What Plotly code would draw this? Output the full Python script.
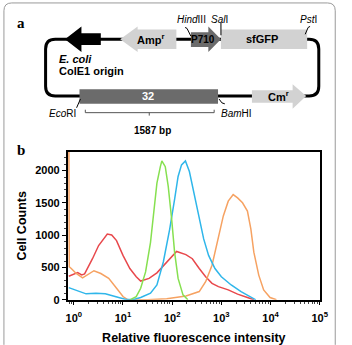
import plotly.graph_objects as go

# ---------------- data (panel b histogram) ----------------
red_x = [0.79, 0.98, 1.2, 1.45, 1.66, 2.4, 3.2, 4.8, 5.9, 7.4, 10, 13.8, 18.6, 22.9, 33.9, 49,
         77.6, 123, 190, 257, 355, 479, 646, 871, 1380, 2138, 3388, 4571]
red_y = [365, 395, 420, 385, 400, 636, 840, 1018, 1003, 916, 687, 484, 356, 290, 331, 417,
         585, 748, 700, 636, 484, 356, 255, 204, 153, 87, 35, 0]

green_x = [13.8, 18.6, 22.9, 28.8, 36.3, 42.7, 49, 57.5, 61.7, 72.4, 83.2, 97.7, 112, 132, 166, 209]
green_y = [0, 50, 178, 432, 890, 1348, 1806, 2061, 2150, 2061, 1756, 1247, 737, 331, 76, 0]

blue_x = [0.79, 1.05, 1.78, 2.82, 4.37, 6.92, 11.0, 15.8, 22.9, 36.3, 49, 66.1, 89.1, 112, 132,
          155, 186, 224, 282, 355, 437, 550, 741, 1000, 1585, 2512, 3981, 5012]
blue_y = [188, 153, 92, 102, 92, 50, 10, 0, 35, 102, 229, 585, 1095, 1553, 1909,
          2088, 2150, 1985, 1630, 1247, 942, 687, 484, 356, 229, 127, 35, 0]

orange_x = [0.79, 0.81, 0.89, 1.12, 1.51, 2.04, 2.57, 3.55, 5.13, 7.41, 10, 12.6, 31.6, 77.6, 191,
            355, 479, 646, 871, 1096, 1380, 1738, 2138, 2692, 3388, 3981, 4571, 5754, 7244, 9772, 13183]
orange_y = [3000, 509, 484, 407, 340, 400, 450, 407, 331, 178, 50, 0, 0, 15, 60,
            127, 280, 535, 993, 1298, 1527, 1629, 1578, 1501, 1374, 1095, 737, 382, 153, 35, 0]

x_tickvals = [1, 10, 100, 1000, 10000, 100000]
x_ticktext = ["10<sup>0</sup>", "10<sup>1</sup>", "10<sup>2</sup>", "10<sup>3</sup>",
              "10<sup>4</sup>", "10<sup>5</sup>"]
y_tickvals = [0, 500, 1000, 1500, 2000]

# ---------------- helpers ----------------
W, H = 352, 345
FONT = "Liberation Sans, Arial, sans-serif"


def px(x):
    return x / W


def py(y):
    return 1 - y / H


def path(cmds):
    out = []
    for c in cmds:
        op = c[0]
        pts = c[1:]
        s = op + " " + " ".join(f"{px(a):.5f},{py(b):.5f}" for a, b in pts)
        out.append(s)
    return " ".join(out)


def poly(points):
    return path([("M", points[0])] + [("L", p) for p in points[1:]] + [("Z",)])


shapes = []
annotations = []


def add_shape(p, fill=None, line_color=None, line_width=0):
    shapes.append(dict(type="path", xref="paper", yref="paper", path=p,
                       fillcolor=fill if fill else "rgba(0,0,0,0)",
                       line=dict(color=line_color if line_color else "rgba(0,0,0,0)",
                                 width=line_width)))


def add_text(x, y, text, size=11, color="black", xanchor="center", family=FONT, yanchor="middle"):
    annotations.append(dict(x=px(x), y=py(y), xref="paper", yref="paper", text=text,
                            showarrow=False, xanchor=xanchor, yanchor=yanchor,
                            font=dict(family=family, size=size, color=color)))


# outer rounded border
add_shape(path([("M", (2, 352)), ("L", (2, 11)), ("Q", (2, 3), (10, 3)), ("L", (336, 3)),
                ("Q", (344, 3), (344, 11)), ("L", (344, 352))]), line_color="#9a9a9a", line_width=1)

# plasmid loop
add_shape(path([("M", (60, 40)), ("L", (55, 40)), ("Q", (45, 40), (45, 50)), ("L", (45, 88)),
                ("Q", (45, 98), (55, 98)), ("L", (317, 98)), ("Q", (327, 98), (327, 88)),
                ("L", (327, 50)), ("Q", (327, 40), (317, 40)), ("Z",)]),
          line_color="black", line_width=3)

LIGHT = "#d2d2d2"
DARK = "#6b6b6b"

# origin arrow (black, pointing left)
add_shape(poly([(65, 40), (82, 27), (82, 34), (102, 34), (102, 46), (82, 46), (82, 53)]), fill="black")
# Amp arrow (pointing left)
add_shape(poly([(122, 40), (140, 27), (140, 30), (180, 30), (180, 50), (140, 50), (140, 53)]), fill=LIGHT)
# P710 arrow (pointing right)
add_shape(poly([(195, 33), (213, 33), (213, 27), (226, 40), (213, 53), (213, 48), (195, 48)]), fill=DARK)
# sfGFP box
add_shape(poly([(226, 30), (315, 30), (315, 50), (226, 50)]), fill=LIGHT)
# 32 box
add_shape(poly([(80, 91), (223, 91), (223, 106), (80, 106)]), fill=DARK)
# Cm arrow (pointing right)
add_shape(poly([(258, 92), (300, 92), (300, 86), (314, 98), (300, 111), (300, 105), (258, 105)]), fill=LIGHT)

# restriction site marker lines
mk = dict(line_color="black", line_width=1)
add_shape(path([("M", (189, 28)), ("L", (191, 29)), ("L", (195, 37))]), **mk)   # HindIII
add_shape(path([("M", (226, 23)), ("L", (226, 36))]), **mk)                    # SalI
add_shape(path([("M", (318, 27)), ("L", (316, 28)), ("L", (313, 35))]), **mk)   # PstI
add_shape(path([("M", (81, 101)), ("L", (77, 110))]), **mk)                     # EcoRI
add_shape(path([("M", (224, 101)), ("L", (227, 105)), ("L", (230, 106))]), **mk)  # BamHI
# bracket
add_shape(path([("M", (86, 112)), ("L", (86, 115)), ("L", (219, 115)), ("L", (219, 112))]),
          line_color="#555555", line_width=1)
add_shape(path([("M", (152, 115)), ("L", (152, 118))]), line_color="#555555", line_width=1)

# panel a texts
SERIF = "Liberation Serif, DejaVu Serif, serif"
add_text(20, 23, "<b>a</b>", size=15, family=SERIF)
add_text(153, 40, "<b>Amp<sup>r</sup></b>", size=11)
add_text(207, 40, "<b>P710</b>", size=10)
add_text(268, 40, "<b>sfGFP</b>", size=11)
add_text(151, 98, "<b>32</b>", size=11, color="white")
add_text(285, 98, "<b>Cm<sup>r</sup></b>", size=11)
add_text(196, 20, "<i>Hind</i>III", size=10)
add_text(225, 20, "<i>Sal</i>I", size=10)
add_text(316, 20, "<i>Pst</i>I", size=10)
add_text(62, 116, "<i>Eco</i>RI", size=10)
add_text(242, 116, "<i>Bam</i>HI", size=10)
add_text(57, 60, "<b><i>E. coli</i></b>", size=11, xanchor="left")
add_text(57, 72, "<b>ColE1 origin</b>", size=11, xanchor="left")
add_text(155, 133, "<b>1587 bp</b>", size=10)

# panel b texts
add_text(20, 153, "<b>b</b>", size=15, family=SERIF)

# ---------------- figure ----------------
fig = go.Figure()
for xs, ys, col in [(red_x, red_y, "#e8484c"), (orange_x, orange_y, "#f6a262"),
                    (blue_x, blue_y, "#2fb6ea"), (green_x, green_y, "#86e050")]:
    fig.add_trace(go.Scatter(x=xs, y=ys, mode="lines", line=dict(color=col, width=1.5),
                             showlegend=False, hoverinfo="skip"))

fig.update_layout(
    width=W, height=H,
    margin=dict(l=0, r=0, t=0, b=0, pad=0),
    paper_bgcolor="white", plot_bgcolor="white",
    shapes=shapes, annotations=annotations,
    showlegend=False,
    xaxis=dict(type="log", range=[-0.12, 5.0], domain=[px(68), px(328)],
               tickvals=x_tickvals, ticktext=x_ticktext, ticks="outside", ticklen=3,
               tickcolor="black", showline=True, linecolor="black", linewidth=2, mirror=True,
               showgrid=False, zeroline=False, ticklabelstandoff=4,
               tickfont=dict(family=FONT, size=11, color="black", weight="bold"),
               minor=dict(ticks="outside", ticklen=2, tickcolor="#444", dtick="D1", showgrid=False),
               title=dict(text="<b>Relative fluorescence intensity</b>",
                          font=dict(family=FONT, size=12.5, color="black"), standoff=12)),
    yaxis=dict(range=[0, 2290], domain=[py(306), py(155)],
               tickvals=y_tickvals, ticks="outside", ticklen=4, tickcolor="black",
               showline=True, linecolor="black", linewidth=2, mirror=True,
               showgrid=False, zeroline=False,
               tickfont=dict(family=FONT, size=11, color="black", weight="bold"),
               minor=dict(ticks="outside", ticklen=2, tickcolor="#444", dtick=100, showgrid=False),
               title=dict(text="<b>Cell Counts</b>", font=dict(family=FONT, size=12.5, color="black"),
                          standoff=6)),
)

fig.write_html("out.html")
